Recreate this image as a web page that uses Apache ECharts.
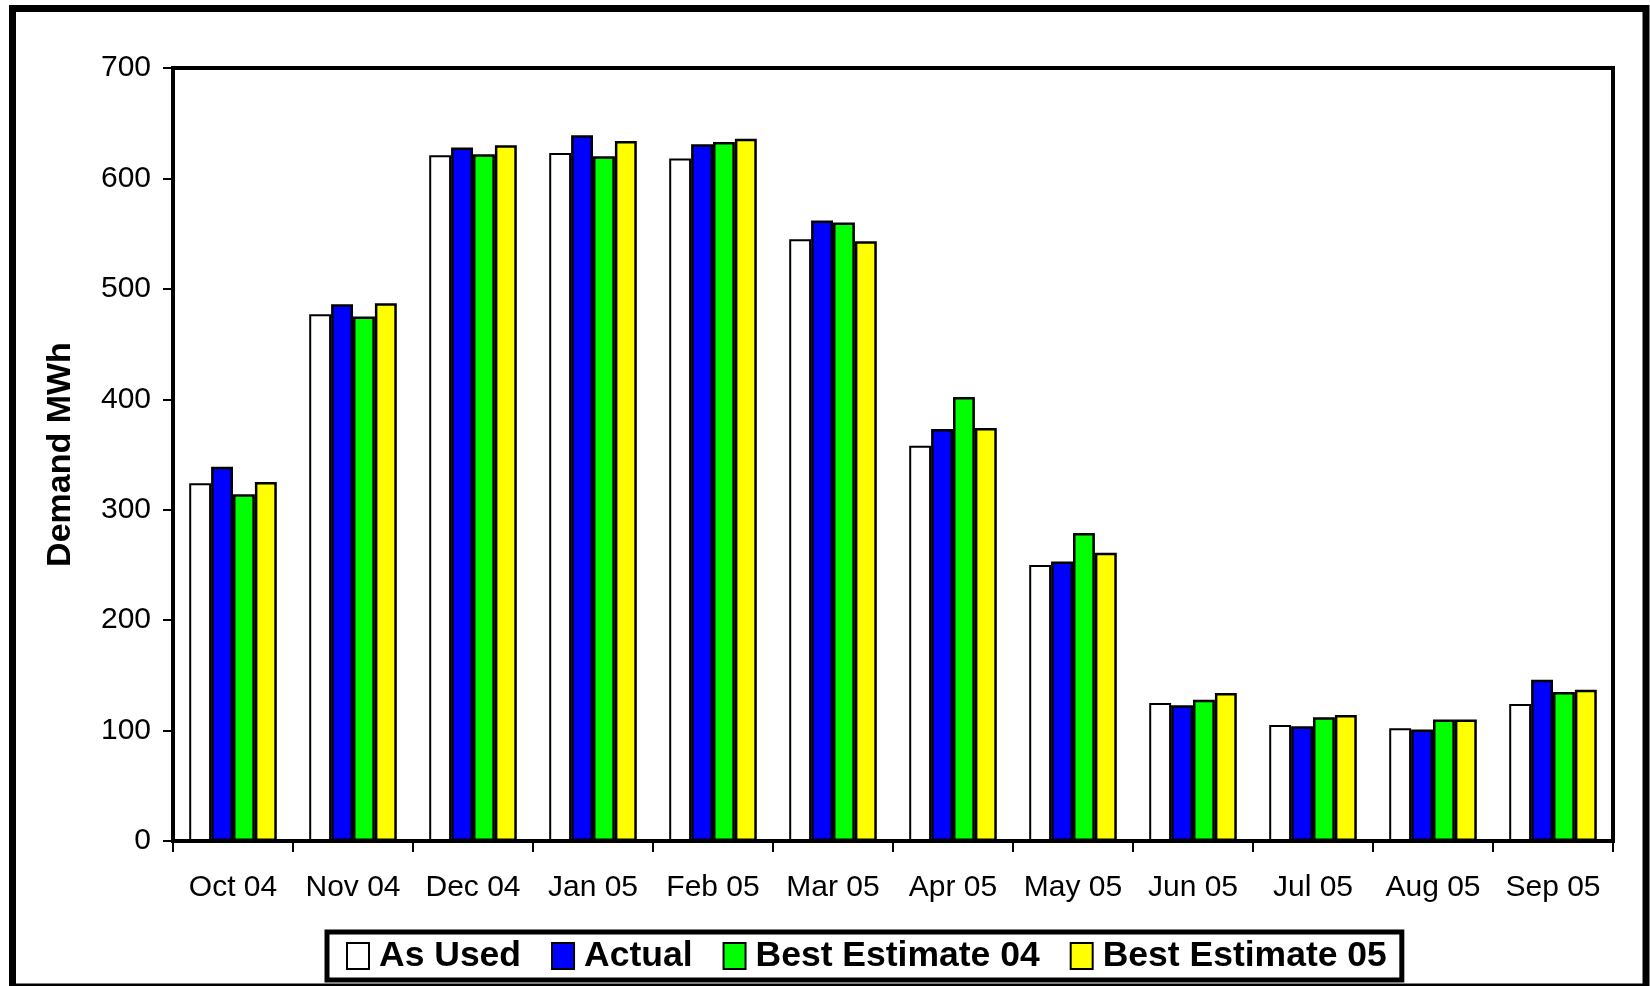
<!DOCTYPE html>
<html>
<head>
<meta charset="utf-8">
<title>Demand MWh</title>
<script src="https://cdn.jsdelivr.net/npm/echarts@6/dist/echarts.min.js"></script>
<style>
  html, body { margin: 0; padding: 0; background: #ffffff; }
  #chart { width: 1650px; height: 986px; }
</style>
</head>
<body>
<div id="chart"></div>
<script>
// Monthly demand, October 2004 to September 2005
const months = ['Oct 04', 'Nov 04', 'Dec 04', 'Jan 05', 'Feb 05', 'Mar 05',
                'Apr 05', 'May 05', 'Jun 05', 'Jul 05', 'Aug 05', 'Sep 05'];
const asUsed         = [324, 477, 621, 623, 618, 545, 358, 250, 125, 105, 102, 124];
const actual         = [339, 486, 628, 639, 631, 562, 373, 253, 123, 104, 101, 146];
const bestEstimate04 = [314, 475, 622, 620, 633, 560, 402, 279, 128, 112, 110, 135];
const bestEstimate05 = [325, 487, 630, 634, 636, 543, 374, 261, 134, 114, 110, 137];
const yTicks = [0, 100, 200, 300, 400, 500, 600, 700];

const FONT = '"Liberation Sans", Arial, Helvetica, sans-serif';

const chart = echarts.init(document.getElementById('chart'), null, { renderer: 'canvas' });

function barSeries(name, data, color, bw) {
  return {
    name: name,
    type: 'bar',
    data: data,
    barGap: '0%',
    barCategoryGap: '27%',
    itemStyle: { color: color, borderColor: '#000000', borderWidth: bw },
    emphasis: { disabled: true },
    animation: false
  };
}

chart.setOption({
  backgroundColor: '#ffffff',
  animation: false,
  textStyle: { fontFamily: FONT },
  graphic: [{
    type: 'rect',
    shape: { x: 12.5, y: 8.5, width: 1633.5, height: 978.5 },
    style: { fill: null, stroke: '#000000', lineWidth: 7 },
    silent: true,
    z: 100
  }],
  grid: {
    left: 173, right: 37, top: 68, bottom: 145,
    show: true,
    borderColor: '#000000',
    borderWidth: 4,
    backgroundColor: 'transparent'
  },
  legend: {
    data: ['As Used', 'Actual', 'Best Estimate 04', 'Best Estimate 05'],
    left: 327,
    top: 932,
    orient: 'horizontal',
    itemWidth: 22,
    itemHeight: 26,
    itemGap: 30,
    padding: [6, 15, 6, 19],
    backgroundColor: '#ffffff',
    borderColor: '#000000',
    borderWidth: 5,
    icon: 'rect',
    selectedMode: false,
    textStyle: { fontFamily: FONT, fontSize: 35.5, fontWeight: 'bold', color: '#000000',
                 padding: [0, 0, 0, 5] },
    itemStyle: { borderColor: '#000000', borderWidth: 2 }
  },
  xAxis: {
    type: 'category',
    data: months,
    boundaryGap: true,
    axisLine: { show: true, lineStyle: { color: '#000000', width: 4 } },
    axisTick: { show: true, inside: false, length: 11, alignWithLabel: false,
                lineStyle: { color: '#000000', width: 2 } },
    axisLabel: { fontFamily: FONT, fontSize: 30, color: '#000000', margin: 32, interval: 0 },
    splitLine: { show: false }
  },
  yAxis: {
    type: 'value',
    min: yTicks[0],
    max: yTicks[yTicks.length - 1],
    interval: yTicks[1] - yTicks[0],
    name: 'Demand MWh',
    nameLocation: 'middle',
    nameRotate: 90,
    nameGap: 95,
    nameTextStyle: { fontFamily: FONT, fontSize: 34, fontWeight: 'bold', color: '#000000' },
    axisLine: { show: true, lineStyle: { color: '#000000', width: 4 } },
    axisTick: { show: true, inside: false, length: 10, lineStyle: { color: '#000000', width: 2 } },
    axisLabel: { fontFamily: FONT, fontSize: 30, color: '#000000', margin: 22 },
    splitLine: { show: false }
  },
  series: [
    barSeries('As Used', asUsed, '#ffffff', 2),
    barSeries('Actual', actual, '#0000ff', 2.5),
    barSeries('Best Estimate 04', bestEstimate04, '#00ff00', 2.5),
    barSeries('Best Estimate 05', bestEstimate05, '#ffff00', 2.5)
  ]
});
</script>
</body>
</html>
